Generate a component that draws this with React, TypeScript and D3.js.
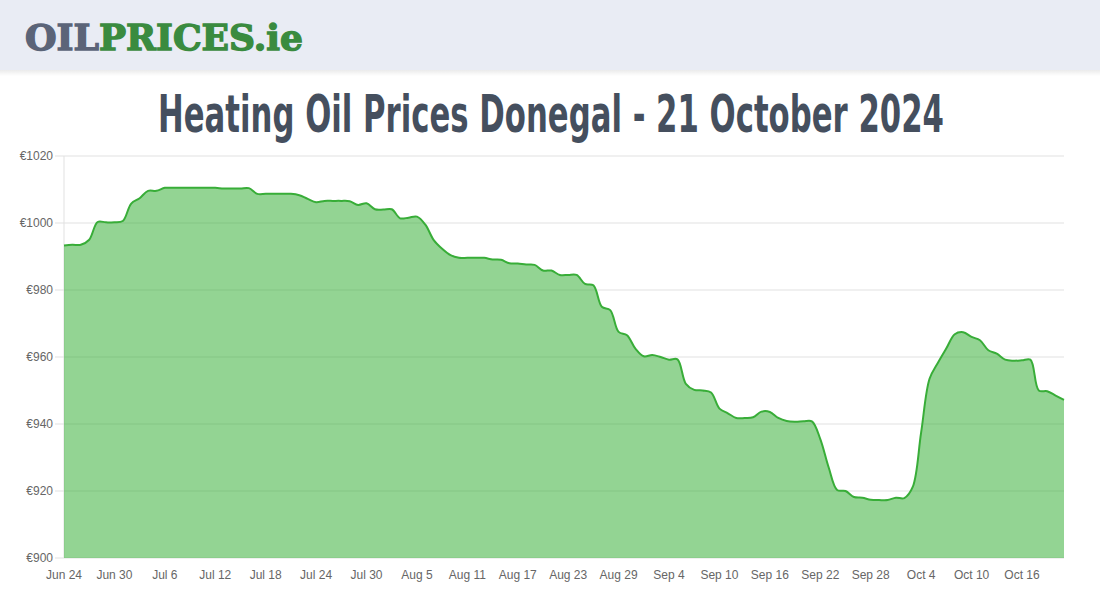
import React from "react";
import * as d3 from "d3";

const startDate = "2024-06-24";
const prices: number[] = [
  993.3, 993.5, 993.5, 995.0, 1000.3, 1000.2, 1000.2, 1000.6, 1005.8, 1007.4,
  1009.6, 1009.6, 1010.5, 1010.5, 1010.5, 1010.5, 1010.5, 1010.5, 1010.5, 1010.3,
  1010.3, 1010.3, 1010.4, 1008.7, 1008.7, 1008.7, 1008.7, 1008.7, 1008.3, 1007.2,
  1006.2, 1006.6, 1006.6, 1006.6, 1006.5, 1005.4, 1005.9, 1004.1, 1004.0, 1004.1,
  1001.4, 1001.6, 1001.9, 999.5, 994.9, 992.3, 990.4, 989.6, 989.6, 989.6,
  989.6, 989.1, 989.0, 988.0, 987.9, 987.6, 987.5, 985.8, 985.8, 984.5,
  984.5, 984.5, 981.8, 981.4, 975.0, 974.0, 967.5, 966.5, 962.5, 960.2,
  960.6, 960.0, 959.2, 959.3, 952.0, 950.2, 950.0, 949.4, 944.6, 943.2,
  941.8, 941.8, 942.0, 943.7, 943.6, 941.8, 940.9, 940.7, 940.8, 940.8,
  935.5, 927.0, 920.3, 920.0, 918.2, 918.0, 917.4, 917.3, 917.3, 918.0,
  917.9, 921.2, 937.5, 953.5, 958.3, 962.6, 966.8, 967.4, 966.0, 965.0,
  962.0, 961.0, 959.2, 958.9, 959.0, 959.2, 950.0, 949.8, 948.5, 947.2,
];
const yTicks: number[] = [900, 920, 940, 960, 980, 1000, 1020];
const xTickLabels: string[] = [
  "Jun 24", "Jun 30", "Jul 6", "Jul 12", "Jul 18", "Jul 24", "Jul 30", "Aug 5",
  "Aug 11", "Aug 17", "Aug 23", "Aug 29", "Sep 4", "Sep 10", "Sep 16", "Sep 22",
  "Sep 28", "Oct 4", "Oct 10", "Oct 16",
];
const title = "Heating Oil Prices Donegal - 21 October 2024";

const W = 1100, H = 600;
const plot = { left: 64, right: 1064, top: 156, bottom: 558 };

export default function App() {
  const parse = d3.timeParse("%Y-%m-%d");
  const start = parse(startDate) as Date;
  const data = prices.map((v, i) => ({ date: d3.timeDay.offset(start, i), v }));
  const x = d3
    .scaleTime()
    .domain([start, d3.timeDay.offset(start, prices.length - 1)])
    .range([plot.left, plot.right]);
  const y = d3.scaleLinear().domain([900, 1020]).range([plot.bottom, plot.top]);
  const curve = d3.curveCatmullRom.alpha(0.5);
  const line = d3.line<any>().x((d) => x(d.date)).y((d) => y(d.v)).curve(curve);
  const area = d3
    .area<any>()
    .x((d) => x(d.date))
    .y0(plot.bottom)
    .y1((d) => y(d.v))
    .curve(curve);
  const xTicks = xTickLabels.map((lab, i) => ({ lab, date: d3.timeDay.offset(start, i * 6) }));
  const font = "'Liberation Sans', Arial, Helvetica, sans-serif";

  return (
    <svg
      width={W}
      height={H}
      style={{ position: "absolute", left: 0, top: 0, display: "block", background: "#fff" }}
    >
      <defs>
        <linearGradient id="hdrShadow" x1="0" y1="0" x2="0" y2="1">
          <stop offset="0" stopColor="#000" stopOpacity="0.08" />
          <stop offset="1" stopColor="#000" stopOpacity="0" />
        </linearGradient>
      </defs>
      <rect x={0} y={0} width={W} height={70} fill="#e9ecf4" />
      <rect x={0} y={70} width={W} height={6} fill="url(#hdrShadow)" />
      <text
        x={25}
        y={50}
        fontFamily="'DejaVu Serif', serif"
        fontWeight="bold"
        fontSize={36}
        fill="#5b6478"
        stroke="#5b6478"
        strokeWidth={1.4}
        textLength={74}
        lengthAdjust="spacingAndGlyphs"
      >
        OIL
      </text>
      <text
        x={99}
        y={50}
        fontFamily="'DejaVu Serif', serif"
        fontWeight="bold"
        fontSize={36}
        fill="#3a8b3f"
        stroke="#3a8b3f"
        strokeWidth={1.4}
        textLength={204}
        lengthAdjust="spacingAndGlyphs"
      >
        PRICES.ie
      </text>
      <g transform="translate(551,132) scale(1,1.275)">
        <text
          x={0}
          y={0}
          textAnchor="middle"
          fontFamily="'DejaVu Sans Condensed', 'DejaVu Sans', sans-serif"
          fontWeight="bold"
          fontSize={40}
          fill="#454f5e"
          textLength={786}
          lengthAdjust="spacingAndGlyphs"
        >
          {title}
        </text>
      </g>

      {yTicks.map((t) => (
        <g key={t}>
          <line x1={55} x2={plot.right} y1={y(t)} y2={y(t)} stroke="#e1e1e1" strokeWidth={1} />
          <text
            x={53}
            y={y(t) + 4}
            textAnchor="end"
            fontFamily={font}
            fontSize={12}
            fill="#666"
          >
            {"€" + t}
          </text>
        </g>
      ))}
      <line x1={plot.left} x2={plot.left} y1={plot.top} y2={plot.bottom} stroke="#e1e1e1" />

      <path d={area(data) as string} fill="rgba(40,170,40,0.5)" />
      <path d={line(data) as string} fill="none" stroke="#38ad38" strokeWidth={2} />

      {xTicks.map((t) => (
        <text
          key={t.lab}
          x={x(t.date)}
          y={579}
          textAnchor="middle"
          fontFamily={font}
          fontSize={12}
          fill="#666"
        >
          {t.lab}
        </text>
      ))}
    </svg>
  );
}
